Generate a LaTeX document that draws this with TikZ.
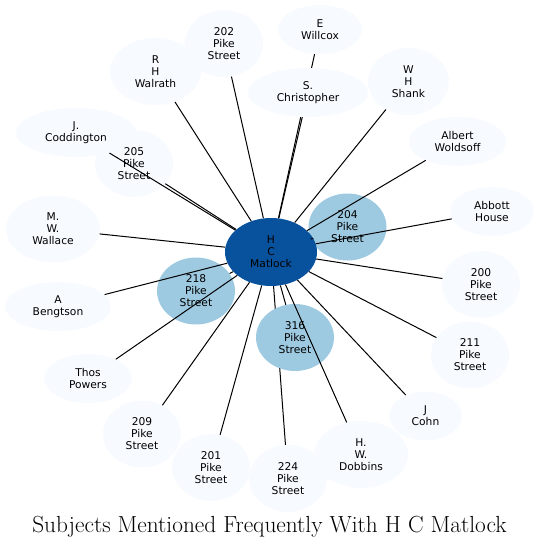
\documentclass[tikz,border=0pt]{standalone}
\usepackage{fontspec}
\newfontfamily\labfont{DejaVu Sans}
\usetikzlibrary{shapes.geometric}
\definecolor{lightb}{HTML}{F7FBFF}
\definecolor{midb}{HTML}{9ECAE1}
\definecolor{darkb}{HTML}{08519C}
\pgfdeclarelayer{under}
\pgfsetlayers{under,main}
\tikzset{
  subj/.style={ellipse, fill=lightb, draw=none, inner sep=0pt, align=center,
    text=black, font=\labfont\fontsize{10.7}{12}\selectfont},
  three/.style={minimum width=78pt, minimum height=67pt},
  two/.style={minimum height=49pt},
  midnode/.style={subj, three, fill=midb},
  hubnode/.style={subj, fill=darkb, minimum width=92pt, minimum height=68pt},
  link/.style={draw=black, line width=1pt},
  titlefont/.style={font=\fontsize{23.3}{27}\selectfont}
}
\begin{document}
\begin{tikzpicture}[x=1pt,y=-1pt]
\useasboundingbox (0,0) rectangle (539,548);
% subject nodes
\node[subj, three] (p202) at (224,43.5) {202\\Pike\\Street};
\node[subj, three, minimum width=91pt] (walrath) at (155.5,71.5) {R\\H\\Walrath};
\node[subj, two, minimum width=84pt] (willcox) at (320,29.5) {E\\Willcox};
\node[subj, three, minimum width=81pt] (shank) at (408.5,81.5) {W\\H\\Shank};
\node[subj, two, minimum width=98pt] (woldsoff) at (457.5,141.5) {Albert\\Woldsoff};
\node[subj, two, minimum width=120pt] (coddington) at (76,132.5) {J.\\Coddington};
\node[subj, three] (p205) at (134,163.5) {205\\Pike\\Street};
\node[subj, two, minimum width=84pt] (abbott) at (492,211.5) {Abbott\\House};
\node[subj, three, minimum width=94pt] (wallace) at (53,229) {M.\\W.\\Wallace};
\node[subj, three] (p200) at (481,284.5) {200\\Pike\\Street};
\node[subj, two, minimum width=106pt] (bengtson) at (58,306.5) {A\\Bengtson};
\node[subj, three] (p211) at (470,355) {211\\Pike\\Street};
\node[subj, two, minimum width=88pt] (powers) at (88,378.5) {Thos\\Powers};
\node[subj, two, minimum width=73pt] (cohn) at (425.5,416) {J\\Cohn};
\node[subj, three] (p209) at (142,434) {209\\Pike\\Street};
\node[subj, three, minimum width=94pt] (dobbins) at (361,454.5) {H.\\W.\\Dobbins};
\node[subj, three] (p201) at (211,467.5) {201\\Pike\\Street};
\node[subj, three] (p224) at (288,478.5) {224\\Pike\\Street};
\node[subj, two, minimum width=120pt] (christopher) at (308,92.5) {S.\\Christopher};
\node[midnode] (p204) at (347.5,227) {204\\Pike\\Street};
\node[midnode] (p218) at (196,291) {218\\Pike\\Street};
\node[midnode] (p316) at (295,337.5) {316\\Pike\\Street};
\node[hubnode] (hub) at (271,252) {H\\C\\Matlock};
% edges hidden behind other nodes
\begin{pgfonlayer}{under}
\draw[link] (hub) -- (willcox);
\draw[link] (hub) -- (p224);
\end{pgfonlayer}
% edges drawn over the nodes
\draw[link] (hub) -- (p202);
\draw[link] (hub) -- (walrath);
\draw[link] (hub) -- (christopher);
\draw[link] (hub) -- (shank);
\draw[link] (hub) -- (woldsoff);
\draw[link] (hub) -- (coddington);
\draw[link] (hub) -- (p205);
\draw[link] (hub) -- (p204);
\draw[link] (hub) -- (abbott);
\draw[link] (hub) -- (wallace);
\draw[link] (hub) -- (p200);
\draw[link] (hub) -- (bengtson);
\draw[link] (hub) -- (p218);
\draw[link] (hub) -- (p316);
\draw[link] (hub) -- (p211);
\draw[link] (hub) -- (powers);
\draw[link] (hub) -- (cohn);
\draw[link] (hub) -- (p209);
\draw[link] (hub) -- (dobbins);
\draw[link] (hub) -- (p201);
% title
\node[titlefont, anchor=base, inner sep=0pt] (title) at (269.5,532) {Subjects Mentioned Frequently With H C Matlock};
\end{tikzpicture}
\end{document}
